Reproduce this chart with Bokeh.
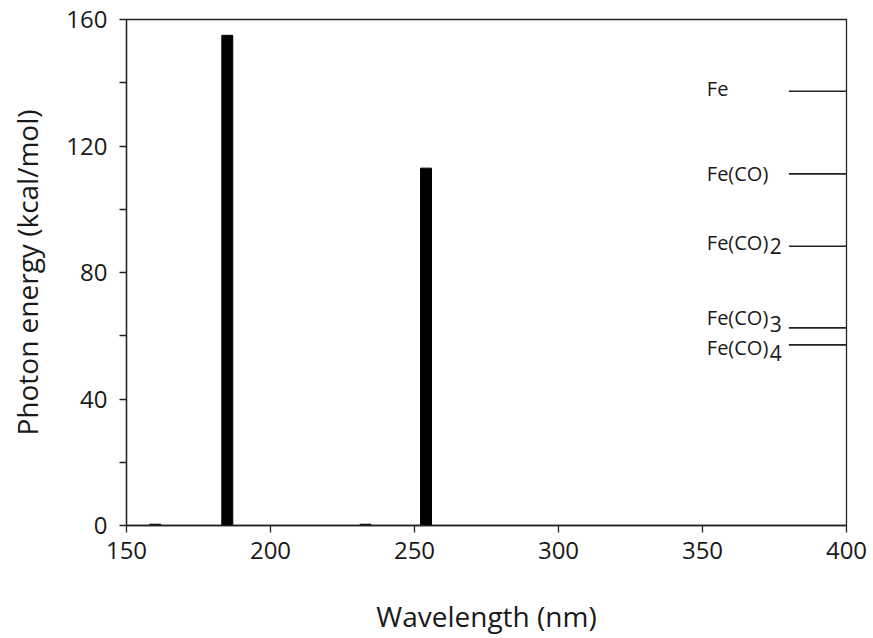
from bokeh.plotting import figure
from bokeh.models import Range1d, FixedTicker, ColumnDataSource
from bokeh.core.properties import value
from bokeh.embed import file_html
from bokeh.resources import INLINE

# Data
wavelengths = [160, 185, 233, 254]          # nm, lamp lines
photon_energy = [0.4, 155, 0.4, 113]         # kcal/mol
level_names = ["Fe", "Fe(CO)", "Fe(CO)", "Fe(CO)", "Fe(CO)"]
level_subscripts = ["", "", "2", "3", "4"]
level_energy = [137.3, 111.2, 88.3, 62.5, 57.1]   # kcal/mol
x_ticks = [150, 200, 250, 300, 350, 400]
y_ticks = [0, 40, 80, 120, 160]
y_minor_ticks = [20, 60, 100, 140]

FONT = "Open Sans"
TXT = "#1a1a1a"

p = figure(width=873, height=638, output_backend="svg", toolbar_location=None,
           x_range=Range1d(150, 400), y_range=Range1d(0, 160),
           min_border_left=126, min_border_right=27, min_border_top=19, min_border_bottom=113)
p.grid.visible = False
p.outline_line_color = "#222222"
p.outline_line_width = 1.3
p.background_fill_color = "white"
p.border_fill_color = "white"

# bars
src = ColumnDataSource(dict(x=wavelengths, top=photon_energy))
p.vbar(x="x", top="top", bottom=0, width=3.8, source=src, fill_color="black", line_color="black")

# energy levels
line_x0, line_x1 = 380, 400
p.segment(x0=[line_x0] * len(level_energy), y0=level_energy,
          x1=[line_x1] * len(level_energy), y1=level_energy,
          line_color="#222222", line_width=1.6)

# label placement (pixel offsets relative to each level line)
label_x = 351.5
label_dy = [3, 0, 4, 10, -3]
sub_dy = [0, 0, 0, 4, -8]
for name, sub, e, dy, sdy in zip(level_names, level_subscripts, level_energy, label_dy, sub_dy):
    p.text(x=[label_x], y=[e], text=[name], text_font=value(FONT), text_font_size="20px",
           text_color=TXT, text_baseline="middle", text_align="left", y_offset=-dy)
    if sub:
        p.text(x=[label_x], y=[e], text=[sub], text_font=value(FONT), text_font_size="21px",
               text_color=TXT, text_baseline="middle", text_align="left", x_offset=63, y_offset=-sdy)

# axes
for ax in (p.xaxis[0], p.yaxis[0]):
    ax.axis_line_color = "#222222"
    ax.axis_line_width = 1.3
    ax.major_tick_line_color = "#222222"
    ax.major_tick_line_width = 1.3
    ax.major_tick_out = 7
    ax.major_tick_in = 0
    ax.major_label_text_font = FONT
    ax.major_label_text_font_size = "24px"
    ax.major_label_text_color = TXT
    ax.axis_label_text_font = FONT
    ax.axis_label_text_font_size = "28px"
    ax.axis_label_text_font_style = "normal"
    ax.axis_label_text_color = TXT

p.xaxis.ticker = FixedTicker(ticks=x_ticks)
p.xaxis[0].minor_tick_line_color = None
p.xaxis.axis_label = "Wavelength (nm)"
p.xaxis[0].major_label_standoff = 9
p.xaxis[0].axis_label_standoff = 35

p.yaxis.ticker = FixedTicker(ticks=y_ticks, minor_ticks=y_minor_ticks)
p.yaxis[0].minor_tick_out = 7
p.yaxis[0].minor_tick_in = 0
p.yaxis[0].minor_tick_line_color = "#222222"
p.yaxis[0].minor_tick_line_width = 1.3
p.yaxis.axis_label = "Photon energy (kcal/mol)"
p.yaxis[0].major_label_standoff = 12
p.yaxis[0].axis_label_standoff = 17

open("out.html", "w").write(file_html(p, INLINE))
